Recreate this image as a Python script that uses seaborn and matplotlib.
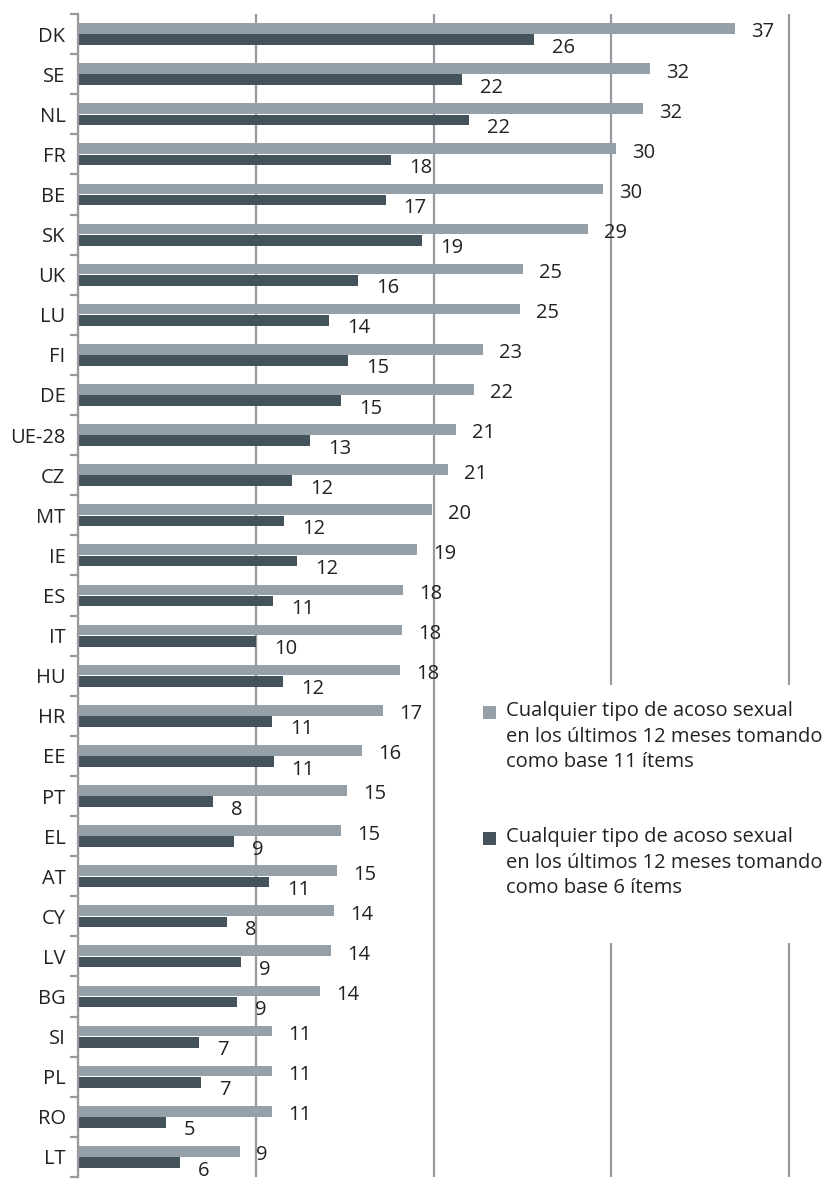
import numpy as np
import pandas as pd
import matplotlib.pyplot as plt
from matplotlib.patches import Rectangle
import seaborn as sns

# ---------- DATOS ----------
paises = ['DK', 'SE', 'NL', 'FR', 'BE', 'SK', 'UK', 'LU', 'FI', 'DE', 'UE-28', 'CZ',
          'MT', 'IE', 'ES', 'IT', 'HU', 'HR', 'EE', 'PT', 'EL', 'AT', 'CY', 'LV',
          'BG', 'SI', 'PL', 'RO', 'LT']

# longitud de las barras (estimada de la figura)
base_11 = [36.96, 32.18, 31.79, 30.27, 29.54, 28.69, 25.04, 24.87, 22.78, 22.28, 21.27, 20.82,
           19.92, 19.07, 18.28, 18.23, 18.12, 17.16, 15.98, 15.13, 14.80, 14.57, 14.40, 14.23,
           13.61, 10.91, 10.91, 10.91, 9.11]
base_6 = [25.65, 21.60, 22.00, 17.61, 17.30, 19.35, 15.75, 14.12, 15.19, 14.80, 13.05, 12.04,
          11.59, 12.32, 10.97, 10.01, 11.55, 10.90, 11.00, 7.60, 8.78, 10.75, 8.38, 9.17,
          8.95, 6.81, 6.92, 4.95, 5.74]

# etiquetas publicadas
etiq_11 = [37, 32, 32, 30, 30, 29, 25, 25, 23, 22, 21, 21, 20, 19, 18, 18, 18, 17, 16,
           15, 15, 15, 14, 14, 14, 11, 11, 11, 9]
etiq_6 = [26, 22, 22, 18, 17, 19, 16, 14, 15, 15, 13, 12, 12, 12, 11, 10, 12, 11, 11,
          8, 9, 11, 8, 9, 9, 7, 7, 5, 6]

serie_11 = 'Cualquier tipo de acoso sexual\nen los últimos 12 meses tomando\ncomo base 11 ítems'
serie_6 = 'Cualquier tipo de acoso sexual\nen los últimos 12 meses tomando\ncomo base 6 ítems'

COLOR_CLARO = '#96a0a8'
COLOR_OSCURO = '#44525b'
GRIS = '#9a9a9e'
TEXTO = '#222222'
FS = 14.5

df = pd.DataFrame({
    'pais': paises * 2,
    'valor': base_11 + base_6,
    'serie': [serie_11] * len(paises) + [serie_6] * len(paises),
})

# ---------- GRAFICO ----------
sns.set_style('white')
plt.rcParams['font.family'] = ['Open Sans', 'DejaVu Sans']

W, H = 824, 1180
fig = plt.figure(figsize=(W / 100, H / 100), dpi=100)
ax = fig.add_axes([78 / W, 1 - 1177 / H, (807 - 78) / W, (1177 - 14) / H])

sns.barplot(data=df, y='pais', x='valor', hue='serie', hue_order=[serie_11, serie_6],
            palette=[COLOR_CLARO, COLOR_OSCURO], orient='h', width=0.56, gap=0.05,
            saturation=1, linewidth=0, legend=False, ax=ax)

ax.set_xlim(0, 41)
ax.set_ylim(len(paises) - 0.5, -0.5)
ax.set_xlabel('')
ax.set_ylabel('')

# rejilla vertical
ax.set_axisbelow(True)
ax.set_xticks([0, 10, 20, 30, 40])
ax.xaxis.grid(True, color=GRIS, lw=1.6)
ax.tick_params(axis='x', length=0, labelbottom=False)

# eje izquierdo con marcas entre categorías
for s in ['top', 'right', 'bottom']:
    ax.spines[s].set_visible(False)
ax.spines['left'].set_color(GRIS)
ax.spines['left'].set_linewidth(1.6)
ax.set_yticks(np.arange(-0.5, len(paises), 1), minor=True)
ax.tick_params(axis='y', which='minor', length=6, width=1.6, color=GRIS, left=True)
ax.tick_params(axis='y', which='major', length=0, pad=9, labelsize=FS, labelcolor=TEXTO)

# etiquetas de valores
for i in range(len(paises)):
    ax.annotate(str(etiq_11[i]), xy=(base_11[i], i - 0.14), xytext=(16, -4),
                textcoords='offset pixels', va='center', ha='left', fontsize=FS, color=TEXTO)
    ax.annotate(str(etiq_6[i]), xy=(base_6[i], i + 0.14), xytext=(18, -8),
                textcoords='offset pixels', va='center', ha='left', fontsize=FS, color=TEXTO)

# leyenda (caja blanca sobre la rejilla)
ax.add_patch(Rectangle((470 / W, 1 - 943 / H), 354 / W, 258 / H, transform=fig.transFigure,
                       facecolor='white', edgecolor='none', zorder=0.8, clip_on=False))
for y_pix, color, txt in [(712, COLOR_CLARO, serie_11), (838, COLOR_OSCURO, serie_6)]:
    fig.add_artist(Rectangle((483 / W, 1 - (y_pix + 6.5) / H), 13 / W, 13 / H,
                             transform=fig.transFigure, facecolor=color, edgecolor='none'))
    fig.text(506 / W, 1 - (y_pix - 11) / H, txt, va='top', ha='left', fontsize=FS,
             color=TEXTO, linespacing=1.38)

fig.savefig('out.png', dpi=100)
